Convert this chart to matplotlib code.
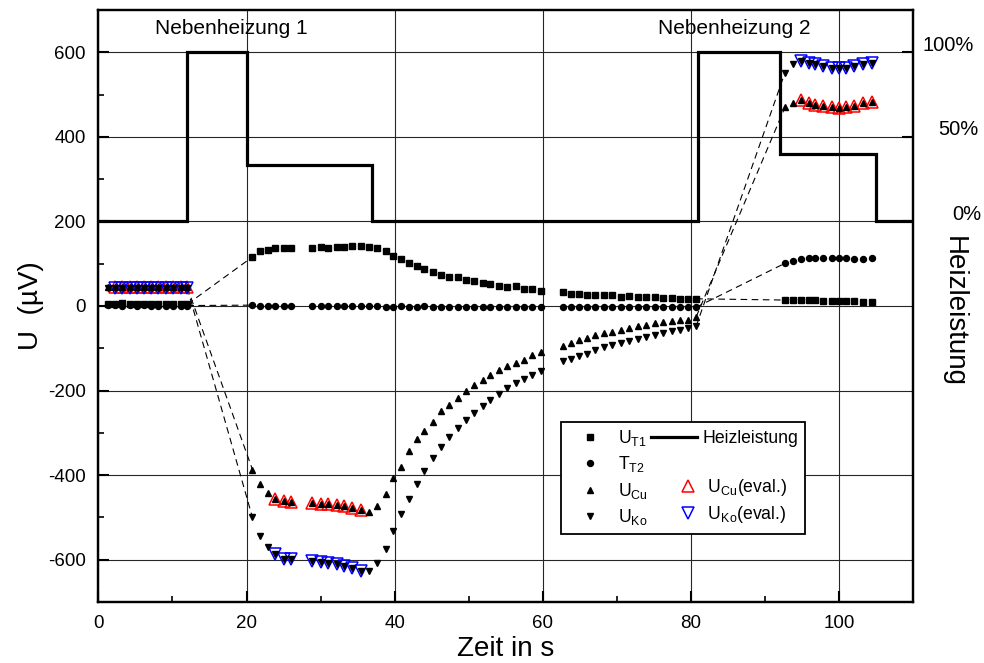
import matplotlib
matplotlib.use('Agg')
import matplotlib.pyplot as plt
import matplotlib.transforms as mtransforms
from matplotlib.lines import Line2D
from matplotlib.legend_handler import HandlerLine2D
import numpy as np

plt.rcParams['font.family'] = ['Liberation Sans', 'DejaVu Sans']
plt.rcParams['font.size'] = 13
plt.rcParams['axes.unicode_minus'] = False

# measurement times per segment (s)
t_seg1 = [1.3, 2.3, 3.2, 4.2, 5.2, 6.1, 7.1, 8.1, 9.1, 10.1, 11.1, 12.0]
t_seg2 = [20.8, 21.8, 22.9, 23.9, 25.0, 26.0,
          28.9, 30.0, 31.0, 32.2, 33.2, 34.3, 35.4, 36.6, 37.6, 38.8, 39.8,
          40.8, 41.9, 43.0, 44.0, 45.2, 46.3, 47.4, 48.5, 49.6, 50.7, 51.9,
          52.9, 54.1, 55.2, 56.4, 57.5, 58.6, 59.7]
t_seg3 = [62.7, 63.8, 64.9, 66.0, 67.1, 68.2, 69.4, 70.5, 71.7, 72.8, 73.9,
          75.1, 76.2, 77.4, 78.5, 79.6, 80.7]
t_seg4 = [92.7, 93.8, 94.9, 95.9, 96.8, 97.8, 99.0, 100.0, 101.0, 102.0,
          103.2, 104.4]

# U_T1 (µV)
ut1_seg1 = [5, 4, 6, 5, 4, 5, 4, 5, 4, 4, 4, 4]
ut1_seg2 = [116, 129, 133, 137, 137, 137,
            137, 139, 137, 140, 139, 141, 141, 140, 137, 130, 118, 111, 102,
            94, 87, 80, 74, 69, 68, 62, 60, 54, 53, 48, 44, 47, 41, 41, 36]
ut1_seg3 = [32, 29, 29, 27, 27, 26, 26, 22, 23, 21, 21, 21, 18, 19, 17, 17, 17]
ut1_seg4 = [14, 14, 14, 14, 14, 12, 12, 12, 12, 12, 10, 10]

# T_T2 (µV)
tt2_seg1 = [2, 2, 1, 2, 1, 2, 1, 1, 1, 1, 1, 1]
tt2_seg2 = [2, 1, 1, 0, 1, 0, 0, 1, 0, 0, -1, 0, -1, -1, -1, -2, -2, -1, -2,
            -2, -1, -2, -3, -2, -2, -3, -2, -3, -2, -3, -3, -2, -3, -3, -3]
tt2_seg3 = [-3, -3, -3, -3, -3, -3, -3, -3, -3, -3, -3, -3, -3, -3, -3, -3, -3]
tt2_seg4 = [101, 107, 110, 113, 113, 114, 113, 113, 113, 111, 111, 113]

# U_Cu (µV)
ucu_seg1 = [44, 44, 44, 44, 44, 44, 44, 44, 44, 44, 44, 44]
ucu_seg2 = [-387, -421, -443, -456, -460, -463,
            -466, -468, -469, -471, -472, -478, -483, -488, -472, -444, -407,
            -380, -344, -315, -296, -275, -248, -233, -217, -201, -188, -176,
            -164, -152, -143, -135, -127, -117, -110]
ucu_seg3 = [-95, -87, -81, -75, -69, -65, -61, -56, -52, -48, -45, -40, -38,
            -36, -33, -32, -26]
ucu_seg4 = [470, 480, 486, 480, 476, 472, 470, 468, 470, 472, 480, 482]

# U_Ko (µV)
uko_seg1 = [42, 42, 42, 42, 42, 42, 42, 42, 42, 42, 42, 42]
uko_seg2 = [-500, -544, -571, -587, -599, -599,
            -603, -606, -607, -611, -615, -619, -627, -627, -607, -574, -532,
            -492, -456, -420, -390, -360, -333, -311, -288, -270, -252, -236,
            -222, -207, -194, -183, -172, -163, -153]
uko_seg3 = [-131, -125, -118, -113, -105, -98, -93, -87, -82, -78, -74, -69,
            -65, -60, -56, -53, -48]
uko_seg4 = [552, 571, 579, 575, 571, 567, 563, 562, 563, 567, 571, 575]

# indices of evaluated points per segment
eval_idx_seg1 = [1, 2, 3, 4, 5, 6, 7, 8, 9, 10, 11]
eval_idx_seg2 = [3, 4, 5, 6, 7, 8, 9, 10, 11, 12]
eval_idx_seg4 = [2, 3, 4, 5, 6, 7, 8, 9, 10, 11]

# heating power (%)
heat_edges = [0, 12, 20, 37, 81, 92, 105, 110]
heat_level = [0, 100, 33.3, 0, 100, 40, 0]
heat_ticks = [0, 50, 100]
heat_ticklabels = ['0%', '50%', '100%']


class ShiftedMarker(HandlerLine2D):
    # legend marker pushed a bit to the right, like in the original
    def create_artists(self, legend, orig_handle, xdescent, ydescent,
                       width, height, fontsize, trans):
        return super().create_artists(legend, orig_handle, xdescent - 10,
                                      ydescent, width, height, fontsize, trans)


fig = plt.figure(figsize=(9.84, 6.63), dpi=100)
ax = fig.add_axes([0.1, 0.092, 0.828, 0.893])

segments = [
    (t_seg1, ut1_seg1, tt2_seg1, ucu_seg1, uko_seg1, eval_idx_seg1),
    (t_seg2, ut1_seg2, tt2_seg2, ucu_seg2, uko_seg2, eval_idx_seg2),
    (t_seg3, ut1_seg3, tt2_seg3, ucu_seg3, uko_seg3, []),
    (t_seg4, ut1_seg4, tt2_seg4, ucu_seg4, uko_seg4, eval_idx_seg4),
]

# dashed connections across the heating gaps
for a, b in [(0, 1), (2, 3)]:
    for k in range(1, 5):
        ax.plot([segments[a][0][-1], segments[b][0][0]],
                [segments[a][k][-1], segments[b][k][0]],
                ls=(0, (6, 4)), color='k', lw=0.8, zorder=2)

for t, ut1, tt2, ucu, uko, idx in segments:
    t = np.asarray(t)
    ucu = np.asarray(ucu)
    uko = np.asarray(uko)
    if len(idx):
        ax.plot(t[idx], ucu[idx], ls='none', marker='^', ms=9, mfc='none',
                mec='red', mew=1.1, zorder=3)
        ax.plot(t[idx], uko[idx], ls='none', marker='v', ms=9, mfc='none',
                mec='blue', mew=1.1, zorder=3)
    ax.plot(t, ut1, ls='none', marker='s', ms=4.3, color='k', zorder=4)
    ax.plot(t, tt2, ls='none', marker='o', ms=4.3, color='k', zorder=4)
    ax.plot(t, ucu, ls='none', marker='^', ms=5, color='k', zorder=4)
    ax.plot(t, uko, ls='none', marker='v', ms=5, color='k', zorder=4)

ax.set_xlim(0, 110)
ax.set_ylim(-700, 700)
ax.set_xticks(np.arange(0, 101, 20))
ax.set_xticks(np.arange(10, 111, 20), minor=True)
ax.set_yticks(np.arange(-600, 601, 200))
ax.set_yticks(np.arange(-700, 701, 200), minor=True)
ax.grid(True, which='major', color='0.15', lw=0.8)
ax.tick_params(which='major', direction='in', length=8, width=1.5, pad=9,
               labelsize=13.5)
ax.tick_params(which='minor', direction='in', length=4, width=1.2)
ax.tick_params(axis='y', which='major', right=True)
for s in ax.spines.values():
    s.set_linewidth(1.6)

ax.set_xlabel('Zeit in s', fontsize=20)
ax.xaxis.set_label_coords(0.5, -0.058)
ax.set_ylabel('U  (µV)', fontsize=20)
ax.yaxis.set_label_coords(-0.067, 0.5)

ax.text(18.0, 655, 'Nebenheizung 1', ha='center', va='center', fontsize=15)
ax.text(85.8, 655, 'Nebenheizung 2', ha='center', va='center', fontsize=15)

ax2 = ax.twinx()
ax2.stairs(heat_level, heat_edges, color='k', lw=2.3, baseline=None)
ax2.set_ylim((-700 - 200) / 4, (700 - 200) / 4)
ax2.set_xlim(0, 110)
ax2.set_yticks(heat_ticks)
ax2.set_yticklabels(heat_ticklabels)
ax2.tick_params(direction='in', length=8, width=1.5, pad=44, labelsize=14.5)
for lab, dx in zip(ax2.get_yticklabels(), [0.07, 0.04, 0.0]):
    shift = mtransforms.ScaledTranslation(dx, 0.09, fig.dpi_scale_trans)
    lab.set_horizontalalignment('right')
    lab.set_transform(lab.get_transform() + shift)
ax2.set_ylabel('Heizleistung', rotation=270, fontsize=20)
ax2.yaxis.set_label_coords(1.066, 0.49)
for s in ax2.spines.values():
    s.set_linewidth(1.6)

h_ut1 = Line2D([], [], ls='none', marker='s', ms=4.3, color='k')
h_tt2 = Line2D([], [], ls='none', marker='o', ms=4.3, color='k')
h_ucu = Line2D([], [], ls='none', marker='^', ms=5, color='k')
h_uko = Line2D([], [], ls='none', marker='v', ms=5, color='k')
h_heat = Line2D([], [], color='k', lw=2.3)
h_none = Line2D([], [], ls='none')
h_cue = Line2D([], [], ls='none', marker='^', ms=9, mfc='none', mec='red', mew=1.1)
h_koe = Line2D([], [], ls='none', marker='v', ms=9, mfc='none', mec='blue', mew=1.1)
handles = [h_ut1, h_tt2, h_ucu, h_uko, h_heat, h_none, h_cue, h_koe]
labels = [r'U$_\mathregular{T1}$', r'T$_\mathregular{T2}$',
          r'U$_\mathregular{Cu}$', r'U$_\mathregular{Ko}$',
          'Heizleistung', '', r' U$_\mathregular{Cu}$(eval.)',
          r' U$_\mathregular{Ko}$(eval.)']
leg = ax2.legend(handles, labels, ncol=2, loc='upper left',
                 bbox_to_anchor=(0.5675, 0.3046), borderaxespad=0,
                 frameon=True, fancybox=False, edgecolor='k', framealpha=1,
                 handlelength=2.6, handletextpad=0.3, columnspacing=0.2,
                 labelspacing=0.37, borderpad=0.35, fontsize=12.7,
                 handler_map={h_cue: ShiftedMarker(), h_koe: ShiftedMarker()})
leg.get_frame().set_linewidth(1.3)

fig.savefig('out.png', dpi=100)
